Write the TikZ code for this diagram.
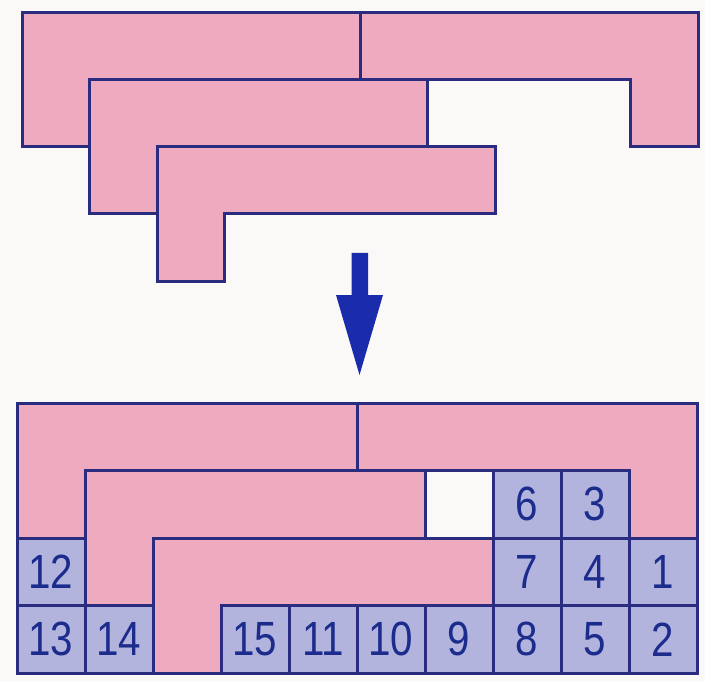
\documentclass[tikz,border=0pt]{standalone}
\usepackage{fontspec}
\setsansfont{Liberation Sans}
\usetikzlibrary{calc}

\definecolor{bgcol}{RGB}{250,249,247}
\definecolor{piecepink}{RGB}{238,170,190}
\definecolor{cellblue}{RGB}{178,180,222}
\definecolor{edgenavy}{RGB}{42,44,128}
\definecolor{numnavy}{RGB}{28,44,140}
\definecolor{arrowblue}{RGB}{26,44,172}

\newcommand{\digit}[1]{\raisebox{-2pt}{\scalebox{0.84}[1]{\fontsize{48}{48}\selectfont\sffamily #1}}}

\tikzset{
  piece/.style={draw=edgenavy, fill=piecepink, line width=3pt, line join=miter},
  cell/.style={draw=edgenavy, fill=cellblue, line width=3pt, inner sep=0pt,
    minimum width=68pt, minimum height=67.5pt, text=numnavy}
}

\begin{document}
\begin{tikzpicture}[x=1pt, y=-1pt]

\fill[bgcol] (0,0) rectangle (705,682);
\useasboundingbox (0,0) rectangle (705,682);

% the four L pieces, before and after
\foreach \ox/\oy/\ux/\uy in {22/13/67.6/67, 17/403/68/67.5} {
\begin{scope}[shift={(\ox pt,-\oy pt)}, x=\ux pt, y=-\uy pt]
 \draw[piece] (0,0) -- (5,0) -- (5,1) -- (1,1) -- (1,2) -- (0,2) -- cycle;
 \draw[piece] (5,0) -- (10,0) -- (10,2) -- (9,2) -- (9,1) -- (5,1) -- cycle;
 \draw[piece] (1,1) -- (6,1) -- (6,2) -- (2,2) -- (2,3) -- (1,3) -- cycle;
 \draw[piece] (2,2) -- (7,2) -- (7,3) -- (3,3) -- (3,4) -- (2,4) -- cycle;
\end{scope}
}

% numbered squares
\begin{scope}[shift={(17pt,-403pt)}, x=68pt, y=-67.5pt]
 \foreach \n/\c/\r in {6/7/1, 3/8/1, 12/0/2, 7/7/2, 4/8/2, 1/9/2,
   13/0/3, 14/1/3, 15/3/3, 11/4/3, 10/5/3, 9/6/3, 8/7/3, 5/8/3, 2/9/3}
  \node[cell] (n\n) at (\c+0.5,\r+0.5) {\digit{\n}};
\end{scope}

% arrow
\fill[arrowblue] (351.5,253) -- (368,253) -- (368,295) -- (383,295)
  -- (359.5,375) -- (336,295) -- (351.5,295) -- cycle;

\end{tikzpicture}
\end{document}
